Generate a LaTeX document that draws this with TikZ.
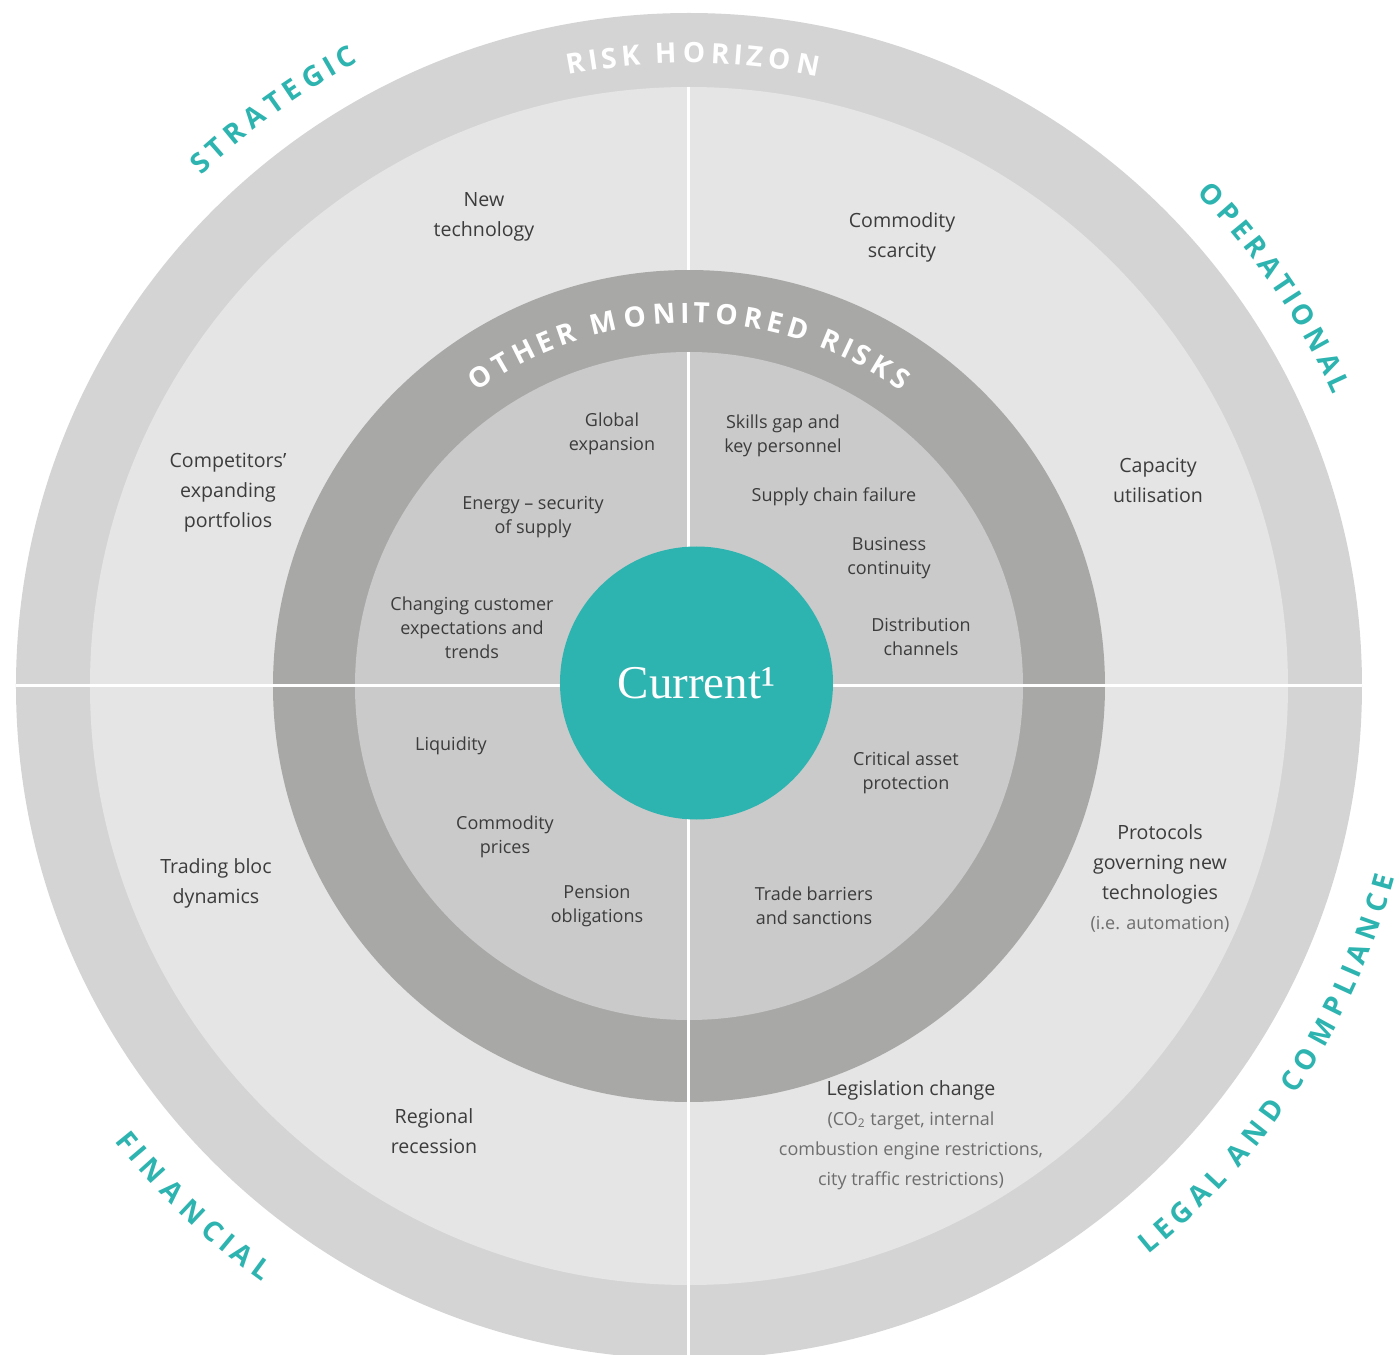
\documentclass[tikz,border=0pt]{standalone}
\usepackage{fontspec}
\setmainfont{Open Sans}
\newfontfamily\hubfont{Liberation Serif}
\usetikzlibrary{decorations.text}

\definecolor{bandouter}{HTML}{D4D4D4}
\definecolor{bandlight}{HTML}{E5E5E5}
\definecolor{banddark}{HTML}{A8A8A7}
\definecolor{bandinner}{HTML}{CACACA}
\definecolor{hubteal}{HTML}{2EB4B0}
\definecolor{riskink}{HTML}{3C3C3C}
\definecolor{asideink}{HTML}{6E6E6E}
\newcommand{\riskaside}[1]{{\color{asideink}\fontsize{9}{15}\selectfont #1}}

\begin{document}
\begin{tikzpicture}[x=0.5pt, y=0.5pt,
    outer risk/.style={align=center, text=riskink, font=\fontsize{9.8}{15}\selectfont},
    inner risk/.style={align=center, text=riskink, font=\fontsize{9}{12}\selectfont},
    divider/.style={white, line width=1.5pt},
    hub/.style={circle, fill=hubteal, minimum size=136.5pt, inner sep=0pt, text=white,
        font=\hubfont\fontsize{23.5}{23.5}\selectfont},
    arc label/.style 2 args={decorate, decoration={text effects along path, text={#1},
        text effects/.cd, text along path, fit text to path,
        characters={text=#2, font=\fontsize{14}{14}\selectfont\bfseries}}}
]
    \useasboundingbox (-689,-669) rectangle (710,686);
    \clip (-689,-669) rectangle (710,686);

    % Bands
    \fill[bandouter] (0,0) circle[radius=673];
    \fill[bandlight] (0,0) circle[radius=599];
    \fill[banddark] (0,0) circle[radius=416];
    \fill[bandinner] (0,0) circle[radius=334];

    % Quadrant dividers
    \draw[divider] (-673,0) -- (673,0);
    \draw[divider] (0,599) -- (0,416);
    \draw[divider] (0,334) -- (0,-673);

    % Hub
    \node[hub] (current) at (7.5,3) {Current¹};

    % Band titles
    \path[arc label={RISK HORIZON}{white}] (101.2:623) arc[start angle=101.2, end angle=78.1, radius=623];
    \path[arc label={OTHER MONITORED RISKS}{white}] (125.8:363) arc[start angle=125.8, end angle=54.3, radius=363];

    % Categories
    \path[arc label={STRATEGIC}{hubteal}] (133.7:706) arc[start angle=133.7, end angle=117.9, radius=706];
    \path[arc label={OPERATIONAL}{hubteal}] (44.1:707) arc[start angle=44.1, end angle=24.3, radius=707];
    \path[arc label={FINANCIAL}{hubteal}] (218.4:733) arc[start angle=218.4, end angle=234.4, radius=733];
    \path[arc label={LEGAL AND COMPLIANCE}{hubteal}] (-51.1:731) arc[start angle=-51.1, end angle=-15.2, radius=731];

    % Risk horizon
    \node[outer risk] (newtech) at (-205,469) {New\\technology};
    \node[outer risk] (scarcity) at (213,449) {Commodity\\scarcity};
    \node[outer risk] (competitors) at (-461,193) {Competitors'\\expanding\\portfolios};
    \node[outer risk] (capacity) at (469,206) {Capacity\\utilisation};
    \node[outer risk] (tradingbloc) at (-473,-197) {Trading bloc\\dynamics};
    \node[outer risk] (protocols) at (471,-192) {Protocols\\governing new\\technologies\\\riskaside{(i.e. automation)}};
    \node[outer risk] (recession) at (-255,-445) {Regional\\recession};
    \node[outer risk] (legislation) at (222,-449) {Legislation change\\\riskaside{(CO\textsubscript{2} target, internal}\\\riskaside{combustion engine restrictions,}\\\riskaside{city traffic restrictions)}};

    % Other monitored risks
    \node[inner risk] (expansion) at (-77,252) {Global\\expansion};
    \node[inner risk] (skills) at (94,250) {Skills gap and\\key personnel};
    \node[inner risk] (energy) at (-156,169) {Energy -- security\\of supply};
    \node[inner risk] (supply) at (145,189) {Supply chain failure};
    \node[inner risk] (continuity) at (200,128) {Business\\continuity};
    \node[inner risk] (customer) at (-217,58) {Changing customer\\expectations and\\trends};
    \node[inner risk] (distribution) at (232,49) {Distribution\\channels};
    \node[inner risk] (liquidity) at (-238,-60) {Liquidity};
    \node[inner risk] (asset) at (217,-87) {Critical asset\\protection};
    \node[inner risk] (prices) at (-184,-151) {Commodity\\prices};
    \node[inner risk] (pension) at (-92,-220) {Pension\\obligations};
    \node[inner risk] (barriers) at (125,-220) {Trade barriers\\and sanctions};
\end{tikzpicture}
\end{document}
